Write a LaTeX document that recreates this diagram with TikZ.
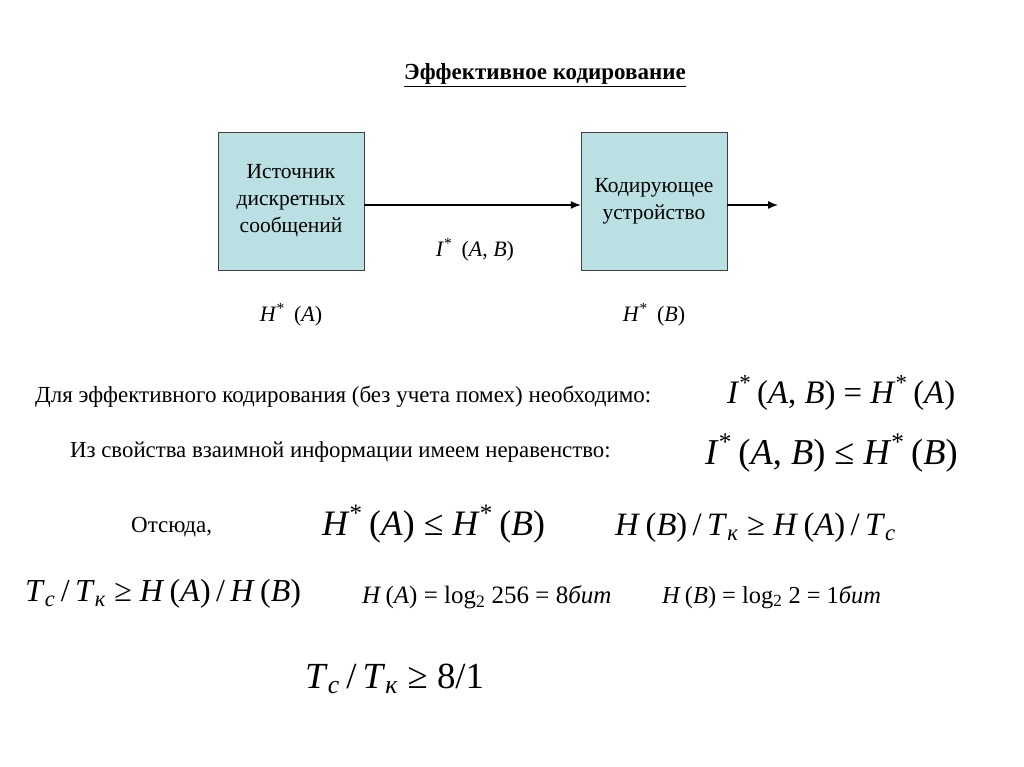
\documentclass[tikz,border=0pt]{standalone}
\usepackage{fontspec}
\setmainfont{Liberation Serif}[ItalicFont={Liberation Serif Italic}]
\usepackage{xcolor}
\usepackage{graphicx}
\usetikzlibrary{arrows.meta, positioning}

\definecolor{boxfill}{RGB}{187,224,227}

% helpers for the formulas
\newcommand{\st}{\textsuperscript{*}}
\newcommand{\vi}[1]{\textit{#1}}
\newcommand{\lowi}[1]{\textsubscript{\textit{#1}}}

\begin{document}
\begin{tikzpicture}[
  x=1pt, y=-1pt,
  block/.style={rectangle, draw=black!75, fill=boxfill, minimum width=146pt,
    minimum height=138pt, align=center, font=\fontsize{21.5}{27}\selectfont},
  arrow/.style={-{Latex[length=10pt,width=8pt]}, line width=1.4pt},
  txt/.style={inner sep=0pt, anchor=west, font=\fontsize{23}{27}\selectfont},
  lbl/.style={inner sep=0pt, font=\fontsize{22}{26}\selectfont},
  fml/.style={inner sep=0pt, anchor=west, font=\fontsize{20}{24}\selectfont}
]
\useasboundingbox (0,0) rectangle (1024,767);

\node[lbl, font=\bfseries\fontsize{23}{27}\selectfont] (title) at (545,75)
  {\underline{Эффективное кодирование}};

\node[block] (src) at (291,201) {Источник\\дискретных\\сообщений};
\node[block] (enc) at (654,201) {Кодирующее\\устройство};
\coordinate (out) at (778,205);

\draw[arrow] ([yshift=-4pt]src.east) -- ([yshift=-4pt]enc.west);
\draw[arrow] ([yshift=-4pt]enc.east) -- (out);

\node[lbl] (iab) at (475,250) {\vi{I}\st\, (\vi{A}, \vi{B})};
\node[lbl] (ha) at (291,315) {\vi{H}\st\, (\vi{A})};
\node[lbl] (hb) at (654,315) {\vi{H}\st\, (\vi{B})};

% conditions
\node[txt] (need) at (35,397) {Для эффективного кодирования (без учета помех) необходимо:};
\node[fml] (eqa) at (727,393)
  {\scalebox{1.64}{\vi{I}\st\,(\vi{A}, \vi{B}) = \vi{H}\st\,(\vi{A})}};
\node[txt, font=\fontsize{22.8}{27}\selectfont] (prop) at (70,452)
  {Из свойства взаимной информации имеем неравенство:};
\node[fml] (eqb) at (705,453)
  {\scalebox{1.82}{\vi{I}\st\,(\vi{A}, \vi{B}) ≤ \vi{H}\st\,(\vi{B})}};

\node[txt] (hence) at (131,527) {Отсюда,};
\node[fml] (eqc) at (322,524)
  {\scalebox{1.79}{\vi{H}\st\,(\vi{A}) ≤ \vi{H}\st\,(\vi{B})}};
\node[fml] (eqd) at (615,528)
  {\scalebox{1.63}{\vi{H}\,(\vi{B})\,/\,\vi{T}\lowi{к} ≥ \vi{H}\,(\vi{A})\,/\,\vi{T}\lowi{с}}};

\node[fml] (eqe) at (25,594)
  {\scalebox{1.6}{\vi{T}\lowi{с}\,/\,\vi{T}\lowi{к} ≥ \vi{H}\,(\vi{A})\,/\,\vi{H}\,(\vi{B})}};
\node[fml] (eqf) at (362,597)
  {\scalebox{1.25}{\vi{H}\,(\vi{A}) = log\textsubscript{2} 256 = 8\vi{бит}}};
\node[fml] (eqg) at (662,597)
  {\scalebox{1.22}{\vi{H}\,(\vi{B}) = log\textsubscript{2} 2 = 1\vi{бит}}};

\node[fml] (eqh) at (305,679)
  {\scalebox{1.84}{\vi{T}\lowi{с}\,/\,\vi{T}\lowi{к} ≥ 8/1}};
\end{tikzpicture}
\end{document}
